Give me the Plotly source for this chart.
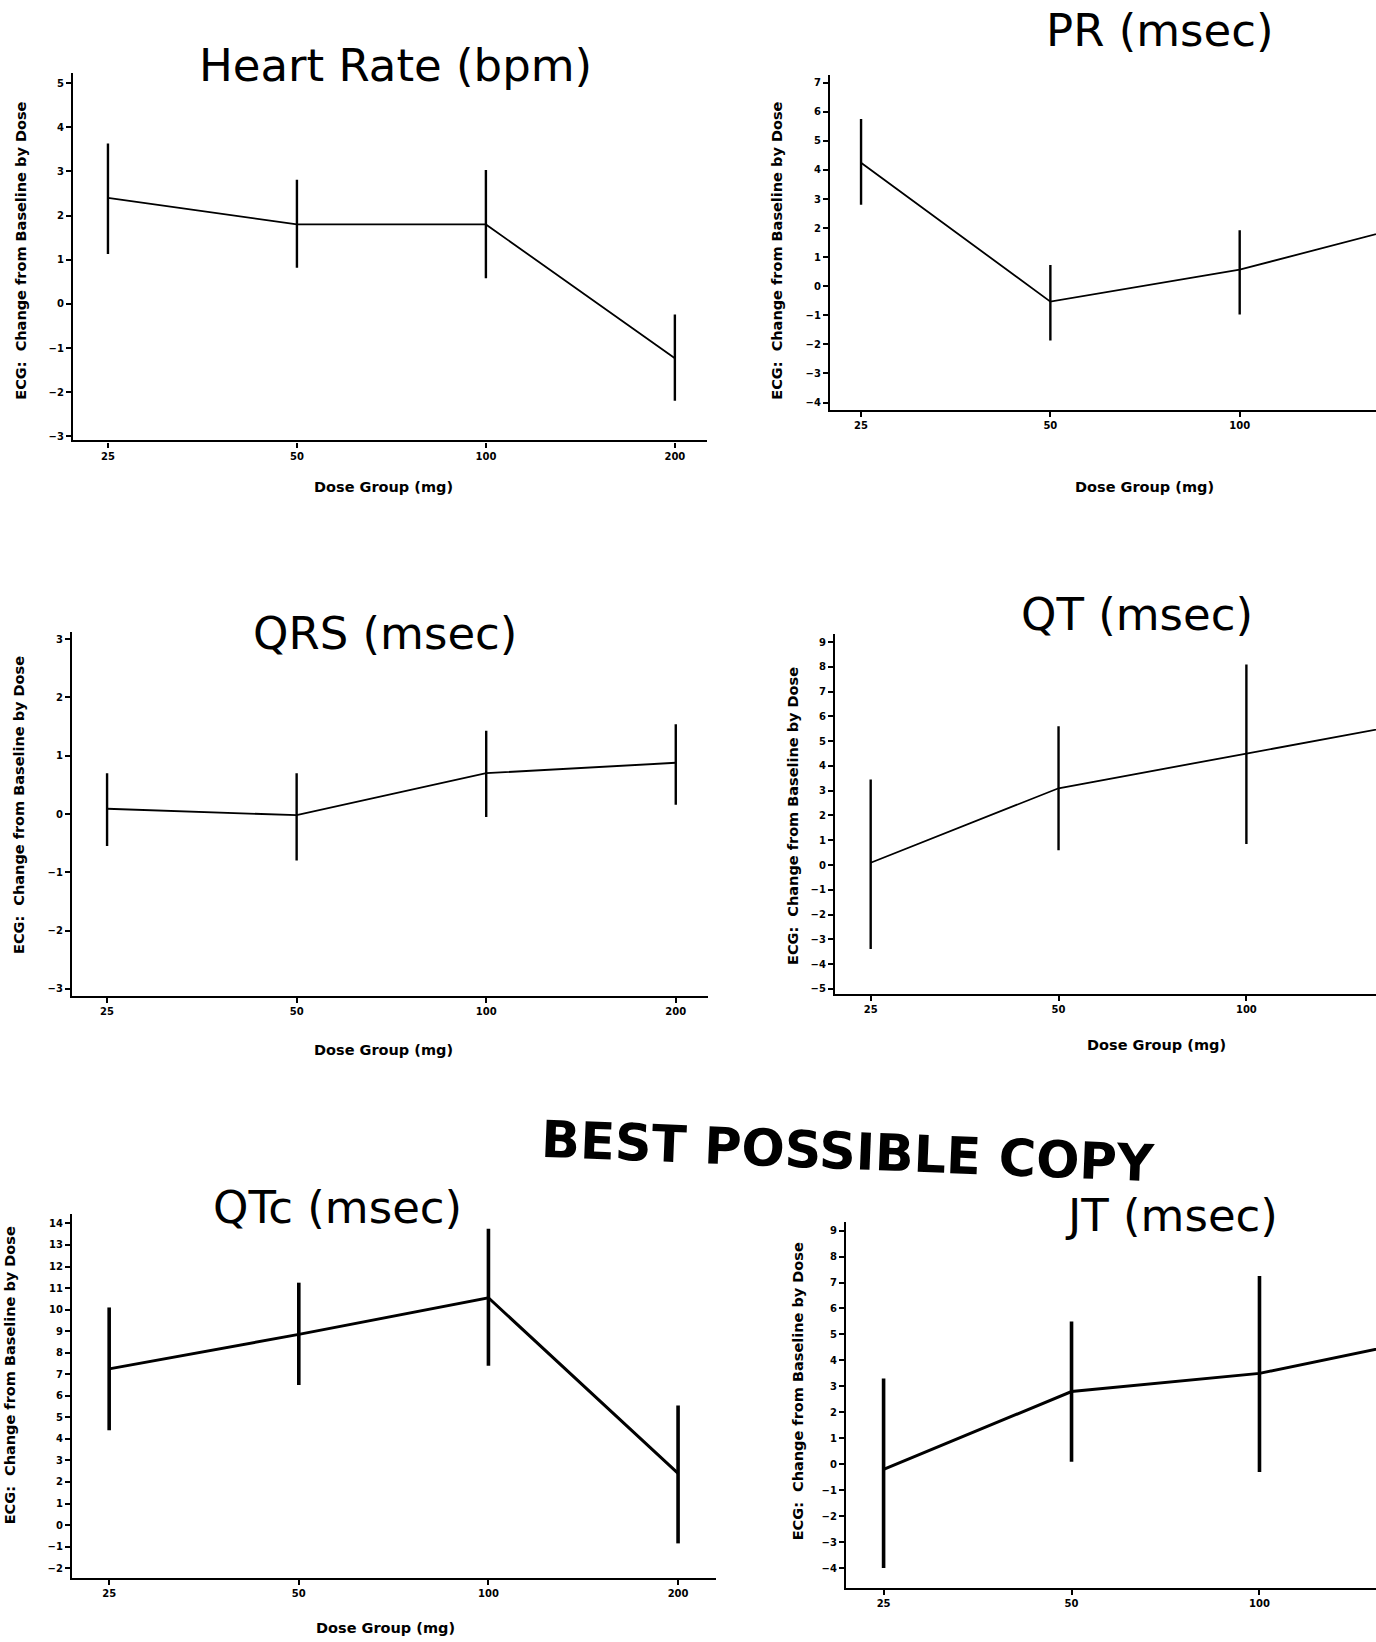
import plotly.graph_objects as go

W, H = 1376, 1642

doses = ["25", "50", "100", "200"]

hr_mean = [2.4, 1.8, 1.8, -1.23]
hr_low = [1.13, 0.82, 0.58, -2.19]
hr_high = [3.63, 2.81, 3.03, -0.24]

pr_mean = [4.25, -0.53, 0.57, 2.27]
pr_low = [2.8, -1.87, -0.97, 0.9]
pr_high = [5.75, 0.73, 1.93, 3.6]

qrs_mean = [0.09, -0.02, 0.7, 0.88]
qrs_low = [-0.55, -0.8, -0.05, 0.16]
qrs_high = [0.7, 0.7, 1.43, 1.54]

qt_mean = [0.09, 3.1, 4.5, 5.9]
qt_low = [-3.39, 0.6, 0.85, 2.5]
qt_high = [3.45, 5.6, 8.1, 9.0]

qtc_mean = [7.25, 8.85, 10.55, 2.4]
qtc_low = [4.4, 6.5, 7.4, -0.85]
qtc_high = [10.1, 11.25, 13.75, 5.55]

jt_mean = [-0.2, 2.8, 3.5, 5.0]
jt_low = [-4.0, 0.1, -0.3, 2.0]
jt_high = [3.3, 5.5, 7.25, 8.0]

titles = ["Heart Rate (bpm)", "PR (msec)", "QRS (msec)", "QT (msec)", "QTc (msec)", "JT (msec)"]
y_title = "ECG:  Change from Baseline by Dose"
x_title = "Dose Group (mg)"

series = [
    (hr_mean, hr_low, hr_high),
    (pr_mean, pr_low, pr_high),
    (qrs_mean, qrs_low, qrs_high),
    (qt_mean, qt_low, qt_high),
    (qtc_mean, qtc_low, qtc_high),
    (jt_mean, jt_low, jt_high),
]

# layout: plot area in pixels (left, right, top, bottom), x range, y range, line width
panels = [
    dict(box=(73, 707, 73, 441), xr=[-0.185, 3.17], yr=[-3.09, 5.23], lw=1.8,
         title=(395, 66), ytl=(21, 251), xtl=(383, 488)),
    dict(box=(830, 1376, 75, 410), xr=[-0.164, 2.72], yr=[-4.24, 7.27], lw=1.8,
         title=(1160, 31), ytl=(777, 251), xtl=(1144, 488)),
    dict(box=(72, 708, 633, 997), xr=[-0.185, 3.17], yr=[-3.12, 3.12], lw=1.8,
         title=(385, 634), ytl=(19, 806), xtl=(383, 1051)),
    dict(box=(835, 1376, 635, 995), xr=[-0.19, 2.69], yr=[-5.2, 9.32], lw=1.8,
         title=(1137, 615), ytl=(793, 817), xtl=(1156, 1046)),
    dict(box=(72, 716, 1215, 1580), xr=[-0.196, 3.2], yr=[-2.46, 14.46], lw=3,
         title=(337, 1209), ytl=(10, 1377), xtl=(385, 1630)),
    dict(box=(846, 1376, 1223, 1590), xr=[-0.2, 2.62], yr=[-4.77, 9.35], lw=3,
         title=(1171, 1217), ytl=(798, 1393), xtl=None),
]

fig = go.Figure()
annotations = []
tick_font = dict(family="DejaVu Sans", size=10, color="black", weight="bold")
lab_font_bold = dict(family="DejaVu Sans", color="black", weight="bold")

for i, (p, (m, lo, hi)) in enumerate(zip(panels, series)):
    n = i + 1
    xa = "x" if n == 1 else f"x{n}"
    ya = "y" if n == 1 else f"y{n}"
    L, R, T, B = p["box"]
    fig.add_trace(go.Scatter(
        x=doses, y=m, mode="lines",
        line=dict(color="black", width=p["lw"]),
        error_y=dict(type="data", symmetric=False,
                     array=[h - v for h, v in zip(hi, m)],
                     arrayminus=[v - l for v, l in zip(m, lo)],
                     color="black", thickness=p["lw"] + 0.6, width=0),
        xaxis=xa, yaxis=ya, showlegend=False, hoverinfo="skip",
    ))
    axis_common = dict(showline=True, linecolor="black", linewidth=2.2,
                       ticks="outside", ticklen=5, tickwidth=2, tickcolor="black",
                       showgrid=False, zeroline=False, tickfont=tick_font)
    fig.update_layout(**{
        ("xaxis" if n == 1 else f"xaxis{n}"): dict(
            domain=[L / W, R / W], anchor=ya, type="category",
            categoryorder="array", categoryarray=doses,
            range=p["xr"], **axis_common),
        ("yaxis" if n == 1 else f"yaxis{n}"): dict(
            domain=[1 - B / H, 1 - T / H], anchor=xa,
            range=p["yr"], dtick=1, **axis_common),
    })
    tx, ty = p["title"]
    annotations.append(dict(text=titles[i], x=tx / W, y=1 - ty / H, xref="paper", yref="paper",
                            showarrow=False, xanchor="center", yanchor="middle",
                            font=dict(family="DejaVu Sans", size=45, color="black")))
    yx, yy = p["ytl"]
    annotations.append(dict(text=y_title, x=yx / W, y=1 - yy / H, xref="paper", yref="paper",
                            showarrow=False, textangle=-90, xanchor="center", yanchor="middle",
                            font=dict(size=14.5, **lab_font_bold)))
    if p["xtl"]:
        xx, xy = p["xtl"]
        annotations.append(dict(text=x_title, x=xx / W, y=1 - xy / H, xref="paper", yref="paper",
                                showarrow=False, xanchor="center", yanchor="middle",
                                font=dict(size=14.5, **lab_font_bold)))

annotations.append(dict(text="BEST POSSIBLE COPY", x=848 / W, y=1 - 1153 / H,
                        xref="paper", yref="paper", showarrow=False, textangle=2.3,
                        xanchor="center", yanchor="middle",
                        font=dict(family="DejaVu Sans", size=51, color="black", weight="bold")))

fig.update_layout(width=W, height=H, margin=dict(l=0, r=0, t=0, b=0),
                  paper_bgcolor="white", plot_bgcolor="white",
                  annotations=annotations)

fig.write_html("out.html")
